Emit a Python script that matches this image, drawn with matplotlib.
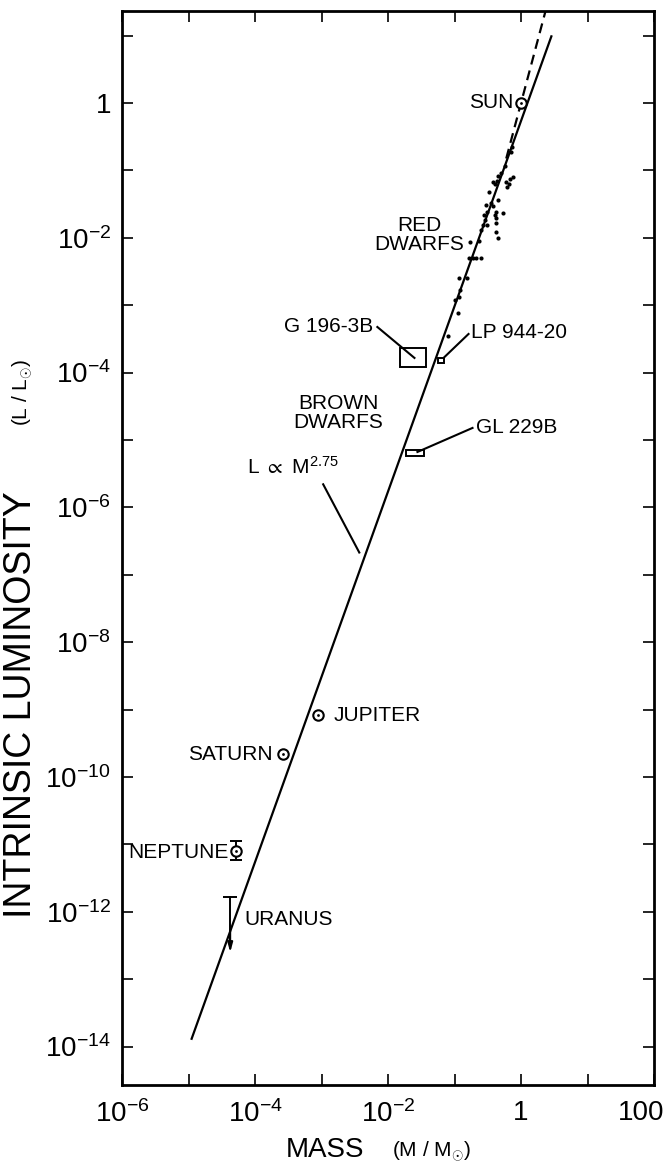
"""Mass-luminosity relation from planets through brown dwarfs to the Sun."""

import matplotlib

matplotlib.use("Agg")

import matplotlib.pyplot as plt
import matplotlib.transforms as mtransforms
from matplotlib.patches import Rectangle

plt.rcParams["font.family"] = ["Liberation Sans", "DejaVu Sans"]
plt.rcParams["mathtext.fontset"] = "custom"
plt.rcParams["mathtext.rm"] = "Liberation Sans"
plt.rcParams["mathtext.it"] = "Liberation Sans:italic"
plt.rcParams["mathtext.bf"] = "Liberation Sans:bold"

# power-law fit L ~ M^2.75 (end points)
fit_mass = [1.1e-5, 2.9]
fit_lum = [1.26e-14, 10.1]

# steeper dashed main-sequence relation above the red dwarfs
dash_mass = [0.6, 2.5]
dash_lum = [0.15, 29.7]

# red dwarfs (scattered dots)
red_mass = [0.735, 0.697, 0.493, 0.445, 0.373, 0.400, 0.429, 0.586, 0.650, 0.747,
            0.673, 0.607, 0.325, 0.445, 0.348, 0.373, 0.414, 0.400, 0.528, 0.414,
            0.414, 0.445, 0.303, 0.273, 0.283, 0.264, 0.247, 0.303, 0.230, 0.174,
            0.193, 0.168, 0.214, 0.247, 0.115, 0.152, 0.123, 0.115, 0.293, 0.414,
            0.111, 0.0785, 0.566, 0.1035]
red_lum = [0.222, 0.1875, 0.0915, 0.0826, 0.0673, 0.0628, 0.0697, 0.0673, 0.0628, 0.0798,
           0.0745, 0.0567, 0.0478, 0.0364, 0.0328, 0.0296, 0.0241, 0.0218, 0.0233, 0.0197,
           0.0166, 0.00993, 0.0241, 0.0218, 0.0184, 0.0155, 0.0131, 0.0155, 0.00897, 0.00867,
           0.00501, 0.00501, 0.00501, 0.00501, 0.00253, 0.00253, 0.00168, 0.00132, 0.0307, 0.0122,
           7.66e-4, 3.49e-4, 0.116, 0.00119]

# sun and planets, drawn with the solar symbol
body_names = ["SUN", "JUPITER", "SATURN", "NEPTUNE"]
body_mass = [1.0, 8.95e-4, 2.66e-4, 5.2e-5]
body_lum = [1.0, 8.3e-10, 2.2e-10, 7.98e-12]
neptune_err = [5.9e-12, 1.12e-11]

uranus_mass = 4.24e-5
uranus_limit = 1.66e-12
uranus_tip = 2.5e-13

# brown dwarf candidates: (mass lo, mass hi), (lum lo, lum hi)
bd_names = ["G 196-3B", "LP 944-20", "GL 229B"]
bd_mass = [(0.0154, 0.0378), (0.0574, 0.0706), (0.0189, 0.0353)]
bd_lum = [(1.21e-4, 2.32e-4), (1.39e-4, 1.65e-4), (5.8e-6, 7.1e-6)]

major_exp = list(range(-14, 1, 2))
x_exp = list(range(-6, 3))
y_exp = list(range(-14, 2))


def decade_label(exponent):
    if exponent == 0:
        return "1"
    if exponent == 2:
        return "100"
    return r"$\mathregular{10^{%d}}$" % exponent


fig = plt.figure(figsize=(6.69, 11.65), dpi=100)
ax = fig.add_axes([122 / 669, 80 / 1165, 532 / 669, 1074 / 1165])
ax.set_xscale("log")
ax.set_yscale("log")
ax.set_xlim(1e-6, 1e2)
ax.set_ylim(10 ** -14.57, 10 ** 1.365)

ax.plot(fit_mass, fit_lum, color="black", lw=1.6, solid_capstyle="butt")
ax.plot(dash_mass, dash_lum, color="black", lw=1.6, dashes=(4.5, 2.8))
ax.plot(red_mass, red_lum, ls="none", marker="o", ms=3.0, color="black", mew=0)

for name, m, l in zip(body_names, body_mass, body_lum):
    ax.plot(m, l, marker="o", ms=7.5, mfc="white", mec="black", mew=1.5, zorder=4)
    ax.plot(m, l, marker="o", ms=2.0, color="black", mew=0, zorder=5)

ax.errorbar(body_mass[3], body_lum[3],
            yerr=[[body_lum[3] - neptune_err[0]], [neptune_err[1] - body_lum[3]]],
            fmt="none", ecolor="black", elinewidth=1.4, capsize=4, capthick=1.4, zorder=3)

ax.plot([uranus_mass, uranus_mass], [uranus_limit, uranus_tip * 1.6], color="black", lw=1.4)
ax.plot(uranus_mass, uranus_limit, marker="_", ms=10, mew=1.4, color="black")
ax.annotate("", xy=(uranus_mass, uranus_tip), xytext=(uranus_mass, uranus_tip * 2.2),
            arrowprops=dict(arrowstyle="-|>,head_length=0.55,head_width=0.15",
                            color="black", lw=1.4, shrinkA=0, shrinkB=0))

for (m0, m1), (l0, l1) in zip(bd_mass, bd_lum):
    ax.add_patch(Rectangle((m0, l0), m1 - m0, l1 - l0, fill=False,
                           edgecolor="black", lw=1.4, zorder=3))

text_kw = dict(fontsize=15, color="black")
leader_kw = dict(color="black", lw=1.5)

ax.text(0.774, 1.0, "SUN", ha="right", va="center", **text_kw)
ax.text(1.51e-3, 8.3e-10, "JUPITER", ha="left", va="center", **text_kw)
ax.text(1.82e-4, 2.12e-10, "SATURN", ha="right", va="center", **text_kw)
ax.text(3.95e-5, 7.7e-12, "NEPTUNE", ha="right", va="center", **text_kw)
ax.text(6.87e-5, 7.8e-13, "URANUS", ha="left", va="center", **text_kw)

ax.text(0.0297, 0.011, "RED\nDWARFS", ha="center", va="center",
        linespacing=1.0, **text_kw)
ax.text(1.79e-3, 2.51e-5, "BROWN\nDWARFS", ha="center", va="center",
        linespacing=1.0, **text_kw)

ax.text(6.0e-3, 4.75e-4, "G 196-3B", ha="right", va="center", **text_kw)
ax.plot([6.92e-3, 0.0250], [4.75e-4, 1.65e-4], **leader_kw)
ax.text(0.180, 3.87e-4, "LP 944-20", ha="left", va="center", **text_kw)
ax.plot([0.0706, 0.1625], [1.70e-4, 3.74e-4], **leader_kw)
ax.text(0.207, 1.51e-5, "GL 229B", ha="left", va="center", **text_kw)
ax.plot([0.0277, 0.1866], [6.64e-6, 1.51e-5], **leader_kw)

ax.text(7.6e-5, 4.0e-6, r"$\mathregular{L\ \propto\ M^{2.75}}$", ha="left", va="center",
        **text_kw)
ax.plot([1.06e-3, 3.7e-3], [2.2e-6, 2.14e-7], **leader_kw)

# ticks: every decade on all four sides, labels on even decades only
ax.set_xticks([10.0 ** e for e in x_exp])
ax.set_xticklabels([decade_label(e) if e % 2 == 0 else "" for e in x_exp])
ax.set_yticks([10.0 ** e for e in y_exp])
ax.set_yticklabels([decade_label(e) if e in major_exp else "" for e in y_exp])
ax.xaxis.set_minor_locator(matplotlib.ticker.NullLocator())
ax.yaxis.set_minor_locator(matplotlib.ticker.NullLocator())
ax.tick_params(which="major", direction="in", length=8, width=1.2,
               top=True, right=True, labelsize=20)
ax.tick_params(axis="x", pad=11)
ax.tick_params(axis="y", pad=8)

# keep the "100" label inside the canvas, as in the original
last = ax.get_xticklabels()[-1]
last.set_transform(last.get_transform()
                   + mtransforms.ScaledTranslation(-13 / 100, 0, fig.dpi_scale_trans))

for spine in ax.spines.values():
    spine.set_linewidth(2.0)

fig.text(286 / 669, 1 - 1150 / 1165, "MASS", fontsize=20, ha="left", va="center")
fig.text(392 / 669, 1 - 1152 / 1165, r"(M / M$_{\odot}$)", fontsize=15,
         ha="left", va="center")
fig.text(21 / 669, 1 - 705 / 1165, "INTRINSIC LUMINOSITY", fontsize=27,
         rotation=90, ha="center", va="center")
fig.text(23 / 669, 1 - 392 / 1165, r"(L / L$_{\odot}$)", fontsize=15,
         rotation=90, ha="center", va="center")

fig.savefig("out.png", dpi=100)
